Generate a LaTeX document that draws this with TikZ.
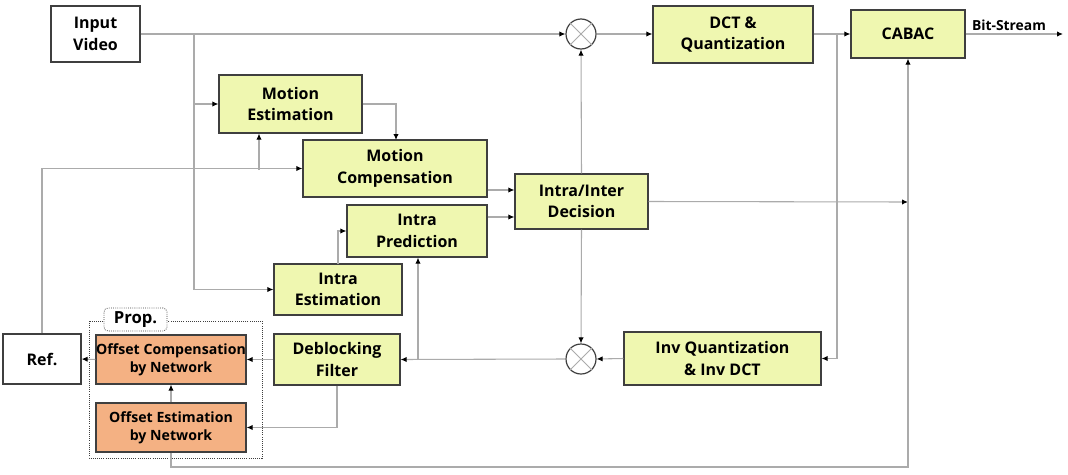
\documentclass[tikz,border=0pt]{standalone}
\usepackage{fontspec}
\setmainfont{Open Sans}[BoldFont={Open Sans Bold}]
\usetikzlibrary{arrows.meta,calc}
\definecolor{yfill}{HTML}{EFF7B0}
\definecolor{ofill}{HTML}{F4B183}
\definecolor{bord}{HTML}{3F3F3F}
\definecolor{lgray}{HTML}{ABABAB}
\newcommand{\bx}[7]{\node[#6, minimum width={(#4-#2)*0.75pt}, minimum height={(#5-#3)*0.75pt}] (#1) at ({(#2+#4)/2},{(#3+#5)/2}) {#7};}
\tikzset{
  base/.style={draw=bord, line width=0.9pt, inner sep=0pt, align=center, font=\fontsize{12}{16}\selectfont\bfseries},
  wbox/.style={base, fill=white},
  ybox/.style={base, fill=yfill},
  obox/.style={base, fill=ofill, font=\fontsize{10.6}{13.8}\selectfont\bfseries},
  ln/.style={draw=lgray, line width=0.8pt},
  arr/.style={ln, -{Latex[color=black,length=4.5pt,width=4pt]}},
  sum/.style={circle, draw=bord, line width=0.9pt, fill=white, minimum size=22.5pt, inner sep=0pt},
}
\begin{document}
\begin{tikzpicture}[x=0.75pt,y=-0.75pt]
\useasboundingbox (0,0) rectangle (1068,475);
% dotted proposal frame
\draw[bord, densely dotted, line width=0.6pt] (89,321) rectangle (262,458);
\bx{propl}{104}{308}{167}{331}{draw=bord, densely dotted, line width=0.6pt, rounded corners=3pt, fill=white, inner sep=0pt, font=\fontsize{12.5}{13}\selectfont\bfseries}{Prop.}
% boxes
\bx{iv}{51}{6}{140}{62}{wbox}{Input\\Video}
\bx{me}{219}{75}{362}{133}{ybox}{Motion\\Estimation}
\bx{mc}{303}{140}{487}{197}{ybox}{Motion\\Compensation}
\bx{ip}{347}{205}{487}{257}{ybox}{Intra\\Prediction}
\bx{ie}{274}{264}{402}{315}{ybox}{Intra\\Estimation}
\bx{iid}{515}{174}{648}{229}{ybox}{Intra/Inter\\Decision}
\bx{dct}{653}{6}{813}{63}{ybox}{DCT \&\\Quantization}
\bx{cabac}{851}{10}{965}{58}{ybox}{CABAC}
\bx{invq}{624}{332}{821}{385}{ybox}{Inv Quantization\\\& Inv DCT}
\bx{df}{274}{334}{400}{385}{ybox}{Deblocking\\Filter}
\bx{oc}{96}{335}{246}{384}{obox}{Offset Compensation\\by Network}
\bx{oe}{96}{403}{246}{452}{obox}{Offset Estimation\\by Network}
\bx{ref}{3}{334}{81}{384}{wbox}{Ref.}
% summation nodes
\node[sum] (c1) at (581,34) {};
\node[sum] (c2) at (581,359) {};
\foreach \c in {c1,c2}{
  \draw[lgray, line width=0.6pt] (\c.north west) -- (\c.south east);
  \draw[lgray, line width=0.6pt] (\c.north east) -- (\c.south west);
}
% helper coordinates
\coordinate (b1) at (194,34);
\coordinate (b2) at (194,104);
\coordinate (mcin) at (396,140);
\coordinate (rf) at (259,170);
\coordinate (iet) at (338,264);
\coordinate (dctb) at (837,34);
\coordinate (fb) at (418,360);
\coordinate (cab) at (908,202);
\coordinate (bot) at (908,467);
\coordinate (bs) at (1063,34);
% connectors
\draw[arr] (iv.east) -- (c1.west);
\draw[ln] (b1) -- (b2);
\draw[arr] (b2) |- (ie.west);
\draw[arr] (b2) -- (me.west);
\draw[arr] (me.east) -| (mcin);
\draw[arr] (ref.north) |- (mc.west);
\draw[arr] (rf) -- (rf |- me.south);
\draw[arr] (mc.east |- 0,190) -- (iid.west |- 0,190);
\draw[arr] (ip.east |- 0,217) -- (iid.west |- 0,217);
\draw[arr] (iet) |- (ip.west);
\draw[arr] (iid.east) -- (cab);
\draw[arr] (iid.north) -- (c1.south);
\draw[arr] (iid.south) -- (c2.north);
\draw[arr] (c1.east) -- (dct.west |- c1.east);
\draw[arr] (dct.east |- c1.east) -- (cabac.west |- c1.east);
\draw[arr] (dctb) |- (invq.east);
\draw[arr] (cabac.east |- bs) -- (bs) node[midway, above=-1pt, font=\fontsize{10.4}{11}\selectfont\bfseries, xshift=-4pt] {Bit-Stream};
\draw[arr] (invq.west) -- (c2.east);
\draw[arr] (c2.west) -- (df.east);
\draw[arr] (fb) -- (fb |- ip.south);
\draw[arr] (df.west) -- (oc.east);
\draw[arr] (df.south) |- (oe.east);
\draw[arr] (oe.north) -- (oc.south);
\draw[arr] (oc.west) -- (ref.east);
\draw[arr] (oe.south) |- (bot) -- (cabac.south);
\end{tikzpicture}
\end{document}
